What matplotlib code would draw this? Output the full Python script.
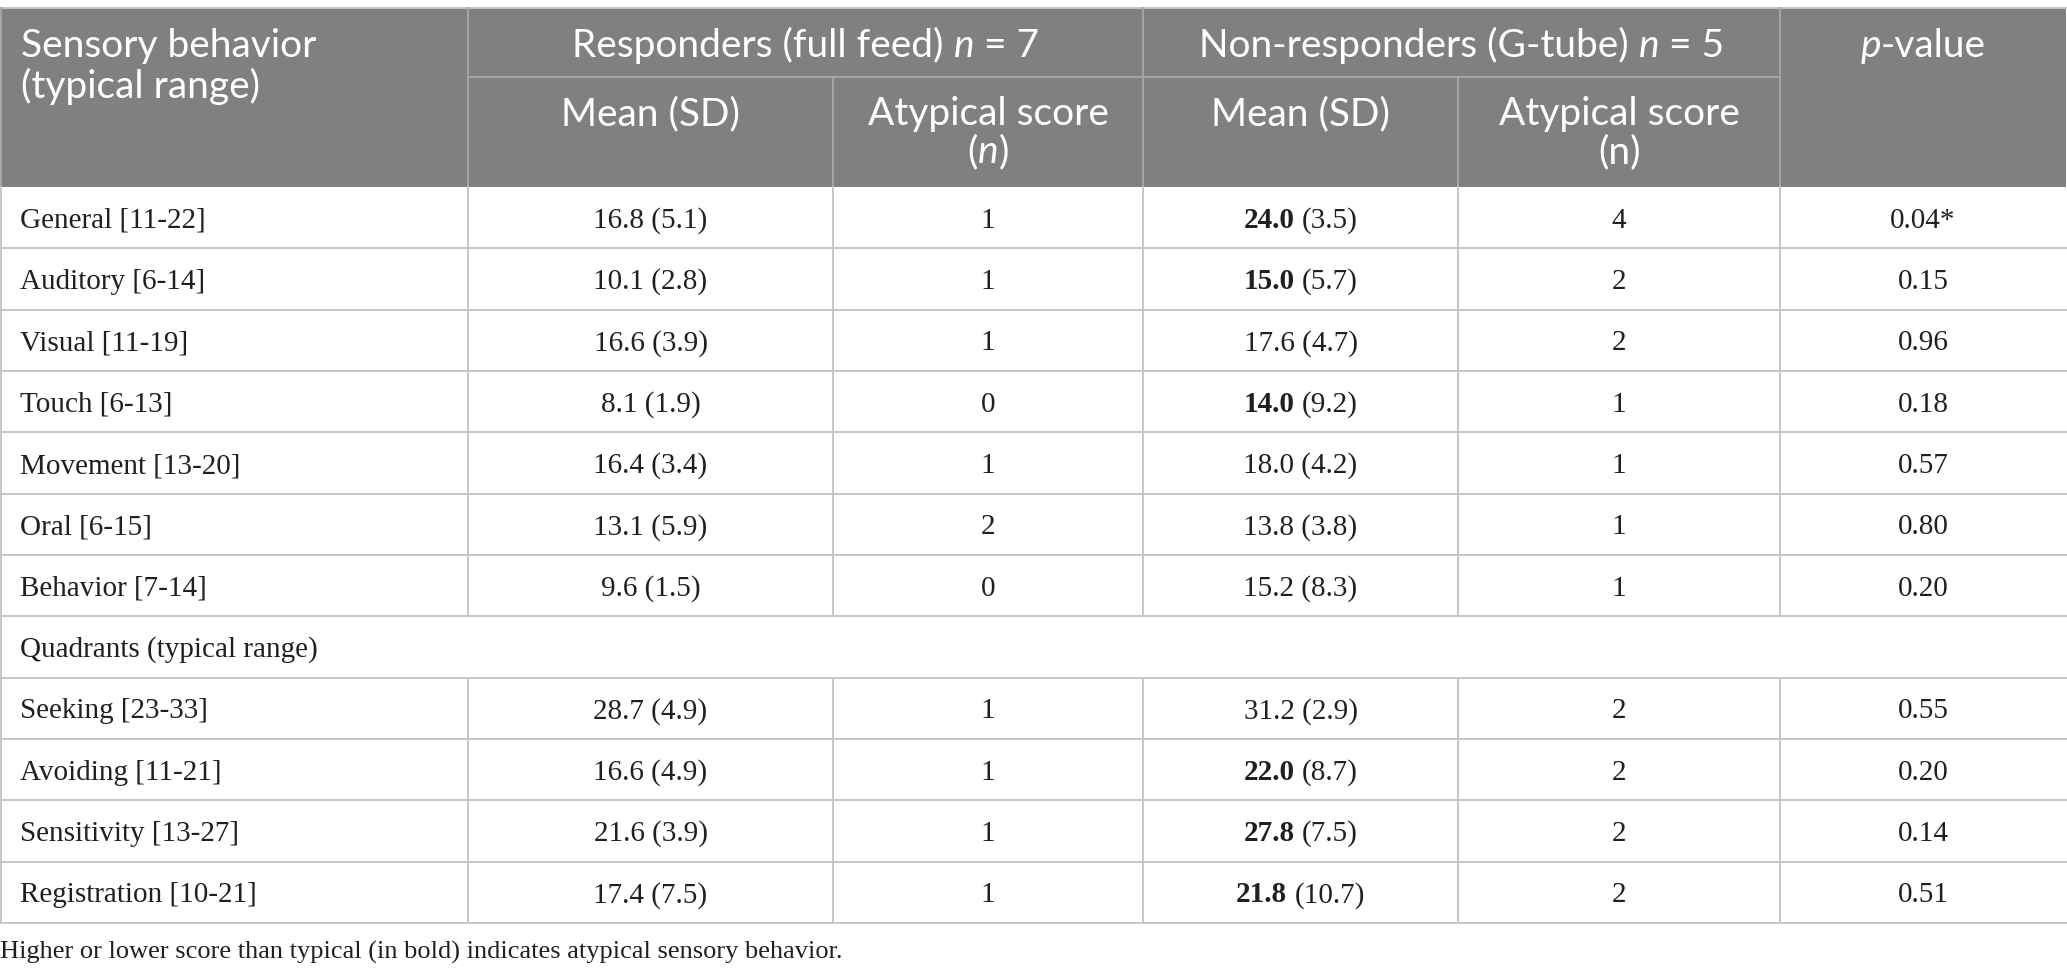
import matplotlib
matplotlib.use("Agg")
import matplotlib.pyplot as plt

# table content
row_labels = ["General [11-22]", "Auditory [6-14]", "Visual [11-19]", "Touch [6-13]",
              "Movement [13-20]", "Oral [6-15]", "Behavior [7-14]"]
quad_title = "Quadrants (typical range)"
quad_labels = ["Seeking [23-33]", "Avoiding [11-21]", "Sensitivity [13-27]", "Registration [10-21]"]

resp_mean = [16.8, 10.1, 16.6, 8.1, 16.4, 13.1, 9.6, 28.7, 16.6, 21.6, 17.4]
resp_sd = [5.1, 2.8, 3.9, 1.9, 3.4, 5.9, 1.5, 4.9, 4.9, 3.9, 7.5]
resp_atyp = [1, 1, 1, 0, 1, 2, 0, 1, 1, 1, 1]
non_mean = [24.0, 15.0, 17.6, 14.0, 18.0, 13.8, 15.2, 31.2, 22.0, 27.8, 21.8]
non_sd = [3.5, 5.7, 4.7, 9.2, 4.2, 3.8, 8.3, 2.9, 8.7, 7.5, 10.7]
non_atyp = [4, 2, 2, 1, 1, 1, 1, 2, 2, 2, 2]
non_bold = [True, True, False, True, False, False, False, False, True, True, True]
p_values = ["0.04*", "0.15", "0.96", "0.18", "0.57", "0.80", "0.20", "0.55", "0.20", "0.14", "0.51"]
footnote = "Higher or lower score than typical (in bold) indicates atypical sensory behavior."

W, H = 2067, 980
fig = plt.figure(figsize=(W / 100, H / 100), dpi=100)
ax = fig.add_axes([0, 0, 1, 1])
ax.set_xlim(0, W)
ax.set_ylim(H, 0)
ax.axis("off")
renderer = fig.canvas.get_renderer()

HEAD_BG = "#808080"
GRID = "#c6c6c6"
HEAD_LINE = "#a6a6a6"
TXT = "#231f20"
SANS = "Lato"
SERIF = "Liberation Serif"
HS = 28     # header font size
BS = 21     # body font size

cols = [1, 468, 833, 1143, 1458, 1780, 2066]
top, mid, head_bot = 8, 77, 187
row_h = (923 - head_bot) / 12


def text_width(s, **kw):
    t = ax.text(0, 0, s, **kw)
    w = t.get_window_extent(renderer).width
    t.remove()
    return w


def mixed(x, y, segs, ha="center", **base):
    # segs: list of (text, extra props, space_before)
    widths = []
    for s, extra, _ in segs:
        widths.append(text_width(s, **base, **extra))
    sp = text_width("a a", **base) - text_width("aa", **base)
    total = sum(widths) + sp * sum(1 for _, _, b in segs if b)
    cx = x - total / 2 if ha == "center" else x
    for (s, extra, b), w in zip(segs, widths):
        if b:
            cx += sp
        ax.text(cx, y, s, ha="left", va="baseline", **base, **extra)
        cx += w


# header background
ax.add_patch(plt.Rectangle((cols[0], top), cols[-1] - cols[0], head_bot - top,
                           facecolor=HEAD_BG, edgecolor="none"))
ax.plot([cols[0], cols[-1]], [top, top], color=GRID, lw=1.4)
ax.plot([cols[1], cols[5]], [mid, mid], color=HEAD_LINE, lw=1.4)
for c in (cols[0], cols[1], cols[3], cols[5]):
    ax.plot([c, c], [top, head_bot], color=HEAD_LINE, lw=1.4)
for c in (cols[2], cols[4]):
    ax.plot([c, c], [mid, head_bot], color=HEAD_LINE, lw=1.4)

hk = dict(color="white", fontsize=HS, family=SANS)
base1, base2 = 57, 98
sub1, sub2 = 125, 163
ax.text(21, base1, "Sensory behavior", ha="left", va="baseline", **hk)
ax.text(21, base2, "(typical range)", ha="left", va="baseline", **hk)
mixed((cols[1] + cols[3]) / 2, base1,
      [("Responders (full feed)", {}, False), ("n", {"style": "italic"}, True), ("= 7", {}, True)], **hk)
mixed((cols[3] + cols[5]) / 2, base1,
      [("Non-responders (G-tube)", {}, False), ("n", {"style": "italic"}, True), ("= 5", {}, True)], **hk)
mixed((cols[5] + cols[6]) / 2, base1, [("p", {"style": "italic"}, False), ("-value", {}, False)], **hk)

ax.text((cols[1] + cols[2]) / 2, sub1, "Mean (SD)", ha="center", va="baseline", **hk)
ax.text((cols[2] + cols[3]) / 2, sub1, "Atypical score", ha="center", va="baseline", **hk)
mixed((cols[2] + cols[3]) / 2, sub2, [("(", {}, False), ("n", {"style": "italic"}, False), (")", {}, False)], **hk)
ax.text((cols[3] + cols[4]) / 2, sub1, "Mean (SD)", ha="center", va="baseline", **hk)
ax.text((cols[4] + cols[5]) / 2, sub1, "Atypical score", ha="center", va="baseline", **hk)
ax.text((cols[4] + cols[5]) / 2, sub2, "(n)", ha="center", va="baseline", **hk)

# body
bk = dict(color=TXT, fontsize=BS, family=SERIF)
labels_all = row_labels + [None] + quad_labels
data_i = 0
for r, lab in enumerate(labels_all):
    y0 = head_bot + r * row_h
    yb = y0 + row_h / 2 + 10
    y1 = y0 + row_h
    ax.plot([cols[0], cols[-1]], [y1, y1], color=GRID, lw=1.4)
    ax.plot([cols[0], cols[0]], [y0, y1], color=GRID, lw=1.4)
    if lab is None:
        ax.text(20, yb, quad_title, ha="left", va="baseline", **bk)
        continue
    for c in cols[1:6]:
        ax.plot([c, c], [y0, y1], color=GRID, lw=1.4)
    i = data_i
    data_i += 1
    ax.text(20, yb, lab, ha="left", va="baseline", **bk)
    ax.text((cols[1] + cols[2]) / 2, yb, f"{resp_mean[i]:.1f} ({resp_sd[i]:.1f})", ha="center", va="baseline", **bk)
    ax.text((cols[2] + cols[3]) / 2, yb, str(resp_atyp[i]), ha="center", va="baseline", **bk)
    if non_bold[i]:
        mixed((cols[3] + cols[4]) / 2, yb,
              [(f"{non_mean[i]:.1f}", {"weight": "bold"}, False), (f"({non_sd[i]:.1f})", {}, True)], **bk)
    else:
        ax.text((cols[3] + cols[4]) / 2, yb, f"{non_mean[i]:.1f} ({non_sd[i]:.1f})", ha="center", va="baseline", **bk)
    ax.text((cols[4] + cols[5]) / 2, yb, str(non_atyp[i]), ha="center", va="baseline", **bk)
    ax.text((cols[5] + cols[6]) / 2, yb, p_values[i], ha="center", va="baseline", **bk)

ax.text(0, 959, footnote, ha="left", va="baseline", color=TXT, fontsize=19, family=SERIF)

fig.savefig("out.png", dpi=100)
